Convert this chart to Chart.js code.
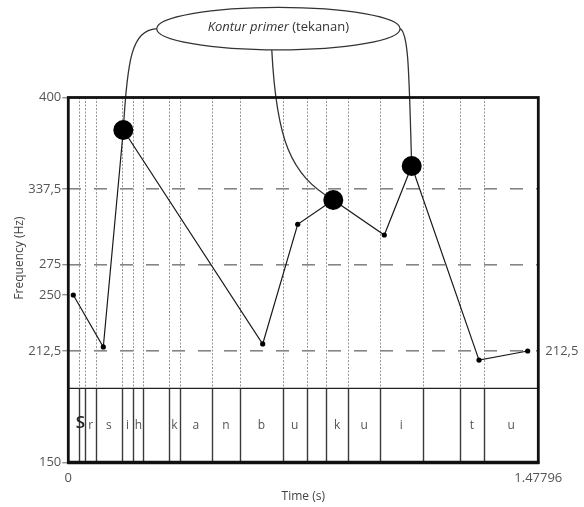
<!DOCTYPE html>
<html>
<head>
<meta charset="utf-8">
<script src="https://cdn.jsdelivr.net/npm/chart.js@4/dist/chart.umd.min.js"></script>
<style>
  html, body { margin: 0; padding: 0; background: #fff; }
  #wrap { width: 584px; height: 507px; }
</style>
</head>
<body>
<div id="wrap"><canvas id="c" width="584" height="507"></canvas></div>
<script>
// F0 track of the utterance (time in s, frequency in Hz)
const times = [0.0157, 0.1101, 0.1730, 0.6113, 0.7214, 0.8333, 0.9937, 1.0799, 1.2915, 1.4446];
const freqs = [250, 215.2, 377.8, 217.2, 308.3, 328.4, 299.4, 353.2, 207.4, 212.5];
// indices of the primary-contour (stress) peaks
const primaryIdx = [2, 5, 7];

// axis ticks
const yTicks = [150, 212.5, 250, 275, 337.5, 400];
const yGridTicks = [212.5, 275, 337.5];
const xTicks = [0, 1.47796];

// segment boundaries (s) and the label of each segment in the text tier
const segBounds = [0.0346, 0.0535, 0.0871, 0.1679, 0.2044, 0.2359, 0.3176, 0.3503, 0.4519,
                   0.5399, 0.6742, 0.7497, 0.8104, 0.8805, 0.9802, 1.1144, 1.2308, 1.3072];
const segLabels = ['', 'S', 'r', 's', 'i', 'h', '', 'k', 'a', 'n', 'b', 'u', '', 'k', 'u', 'i', '', 't', 'u'];

const calloutItalic = 'Kontur primer';
const calloutPlain = ' (tekanan)';
const xTitle = 'Time (s)';
const yTitle = 'Frequency (Hz)';

const FONT = '"Open Sans", "DejaVu Sans", sans-serif';
const fmt = v => String(v).replace('.', ',');

// Vertical scale whose value-to-position mapping is piecewise linear between break points
class SegmentedScale extends Chart.LinearScale {
  static id = 'segmented';
  static defaults = {};
  _toDecimal(v) {
    const b = this.options.breaks;
    let i = 0;
    while (i < b.length - 2 && v > b[i + 1][0]) i++;
    const [v0, d0] = b[i], [v1, d1] = b[i + 1];
    return d0 + (v - v0) / (v1 - v0) * (d1 - d0);
  }
  _fromDecimal(d) {
    const b = this.options.breaks;
    let i = 0;
    while (i < b.length - 2 && d > b[i + 1][1]) i++;
    const [v0, d0] = b[i], [v1, d1] = b[i + 1];
    return v0 + (d - d0) / (d1 - d0) * (v1 - v0);
  }
  getPixelForValue(value) {
    if (value === null || value === undefined || isNaN(value)) return NaN;
    return this.getPixelForDecimal(this._toDecimal(value));
  }
  getValueForPixel(pixel) {
    return this._fromDecimal(this.getDecimalForPixel(pixel));
  }
}
Chart.register(SegmentedScale);

const TIER_FRAC = 0.2033;

const overlay = {
  id: 'overlay',
  beforeDatasetsDraw(chart) {
    const { ctx, chartArea: a } = chart;
    const x = chart.scales.x;
    const tierY = a.bottom - TIER_FRAC * (a.bottom - a.top);
    ctx.save();

    // segment boundaries: dotted above the tier, solid inside it
    segBounds.forEach(t => {
      const px = Math.round(x.getPixelForValue(t)) + 0.5;
      ctx.beginPath();
      ctx.setLineDash([2, 1.5]);
      ctx.strokeStyle = '#959595';
      ctx.lineWidth = 1;
      ctx.moveTo(px, a.top);
      ctx.lineTo(px, tierY);
      ctx.stroke();
      ctx.beginPath();
      ctx.setLineDash([]);
      ctx.strokeStyle = '#3a3a3a';
      ctx.lineWidth = 1.4;
      ctx.moveTo(px, tierY);
      ctx.lineTo(px, a.bottom);
      ctx.stroke();
    });

    // tier separator
    ctx.beginPath();
    ctx.strokeStyle = '#222';
    ctx.lineWidth = 1.3;
    ctx.moveTo(a.left, tierY);
    ctx.lineTo(a.right, tierY);
    ctx.stroke();

    // segment labels
    const edges = [x.min, ...segBounds, x.max];
    ctx.textAlign = 'center';
    ctx.textBaseline = 'middle';
    segLabels.forEach((s, i) => {
      if (!s) return;
      const cx = (x.getPixelForValue(edges[i]) + x.getPixelForValue(edges[i + 1])) / 2;
      if (s === 'S') {
        ctx.font = '600 17px ' + FONT;
        ctx.fillStyle = '#222';
        ctx.fillText(s, cx - 2, (tierY + a.bottom) / 2 - 2);
      } else {
        ctx.font = '12px ' + FONT;
        ctx.fillStyle = '#555';
        ctx.fillText(s, cx, (tierY + a.bottom) / 2);
      }
    });

    // callout: ellipse with connectors to the primary-contour peaks
    const pts = chart.getDatasetMeta(0).data;
    const cx = a.left + 0.447 * a.width;
    const cy = a.top * 0.294;
    const rx = 121.7, ry = 21.3;
    ctx.strokeStyle = '#333';
    ctx.lineWidth = 1.3;
    ctx.beginPath();
    ctx.ellipse(cx, cy, rx, ry, 0, 0, Math.PI * 2);
    ctx.stroke();

    const pA = pts[primaryIdx[0]], pB = pts[primaryIdx[1]], pC = pts[primaryIdx[2]];
    ctx.beginPath();
    ctx.moveTo(cx - rx, cy);
    ctx.bezierCurveTo(cx - rx - 25, cy + 2, pA.x + 4, cy + 30, pA.x, pA.y);
    ctx.stroke();

    ctx.beginPath();
    ctx.moveTo(cx - 6.6, cy + ry);
    ctx.bezierCurveTo(cx - 2, 140, pB.x - 43, pB.y - 25, pB.x, pB.y);
    ctx.stroke();

    ctx.beginPath();
    ctx.moveTo(cx + rx, cy);
    ctx.bezierCurveTo(cx + rx + 9, cy + 4, pC.x - 2.7, 80, pC.x, pC.y);
    ctx.stroke();

    ctx.fillStyle = '#333';
    ctx.textBaseline = 'middle';
    ctx.textAlign = 'left';
    ctx.font = 'italic 13px ' + FONT;
    const w1 = ctx.measureText(calloutItalic).width;
    ctx.font = '13px ' + FONT;
    const w2 = ctx.measureText(calloutPlain).width;
    const sx = cx - (w1 + w2) / 2;
    ctx.font = 'italic 13px ' + FONT;
    ctx.fillText(calloutItalic, sx, cy - 1);
    ctx.font = '13px ' + FONT;
    ctx.fillText(calloutPlain, sx + w1, cy - 1);

    ctx.restore();
  },
  afterDatasetsDraw(chart) {
    const { ctx, chartArea: a } = chart;
    const y = chart.scales.y;
    ctx.save();

    // frame
    ctx.strokeStyle = '#111';
    ctx.lineWidth = 2.8;
    ctx.strokeRect(a.left, a.top, a.width, a.height);
    ctx.beginPath();
    ctx.lineWidth = 3.6;
    ctx.moveTo(a.left - 1, a.bottom);
    ctx.lineTo(a.right + 1, a.bottom);
    ctx.stroke();

    // value of the final point, to the right of the frame
    const last = freqs[freqs.length - 1];
    ctx.fillStyle = '#555';
    ctx.font = '13px ' + FONT;
    ctx.textAlign = 'left';
    ctx.textBaseline = 'middle';
    ctx.fillText(fmt(last), a.right + 7, y.getPixelForValue(last));

    // vertical axis title
    ctx.translate(20, a.top + 0.44 * a.height);
    ctx.rotate(-Math.PI / 2);
    ctx.textAlign = 'center';
    ctx.fillStyle = '#444';
    ctx.font = '12px ' + FONT;
    ctx.fillText(yTitle, 0, 0);

    ctx.restore();
  }
};

new Chart(document.getElementById('c'), {
  type: 'line',
  data: {
    datasets: [{
      data: times.map((t, i) => ({ x: t, y: freqs[i] })),
      borderColor: '#1a1a1a',
      borderWidth: 1.2,
      tension: 0,
      pointBackgroundColor: '#000',
      pointBorderColor: '#000',
      pointBorderWidth: 0,
      pointRadius: ctx => primaryIdx.includes(ctx.dataIndex) ? 10 : 2.6
    }]
  },
  options: {
    responsive: false,
    animation: false,
    layout: { padding: { top: 97.5, right: 45.7, bottom: 0, left: 0 } },
    plugins: { legend: { display: false }, tooltip: { enabled: false } },
    scales: {
      x: {
        type: 'linear',
        min: xTicks[0],
        max: xTicks[xTicks.length - 1],
        afterBuildTicks: s => { s.ticks = xTicks.map(v => ({ value: v })); },
        afterFit: s => { s.height = 44.5; },
        grid: { display: false },
        border: { display: false },
        ticks: {
          padding: 0,
          maxRotation: 0,
          autoSkip: false,
          color: '#555',
          font: { family: FONT, size: 13 },
          callback: v => String(v)
        },
        title: {
          display: true,
          text: xTitle,
          color: '#444',
          font: { family: FONT, size: 12 },
          padding: { top: 0, bottom: 3 }
        }
      },
      y: {
        type: 'segmented',
        min: yTicks[0],
        max: yTicks[yTicks.length - 1],
        breaks: [[150, 0], [212.5, 0.3055], [250, 0.4589], [275, 0.5425], [337.5, 0.7493], [400, 1]],
        afterBuildTicks: s => { s.ticks = yTicks.map(v => ({ value: v })); },
        afterFit: s => { s.width = 68.3; },
        grid: {
          color: ctx => (ctx.tick && yGridTicks.includes(ctx.tick.value)) ? '#858585' : 'rgba(0,0,0,0)',
          lineWidth: 1.6,
          tickColor: '#666',
          tickLength: 6,
          tickWidth: 1
        },
        border: { display: false, dash: [13, 13] },
        ticks: {
          padding: 1,
          color: '#555',
          font: { family: FONT, size: 13 },
          callback: v => fmt(v)
        }
      }
    }
  },
  plugins: [overlay]
});
</script>
</body>
</html>
